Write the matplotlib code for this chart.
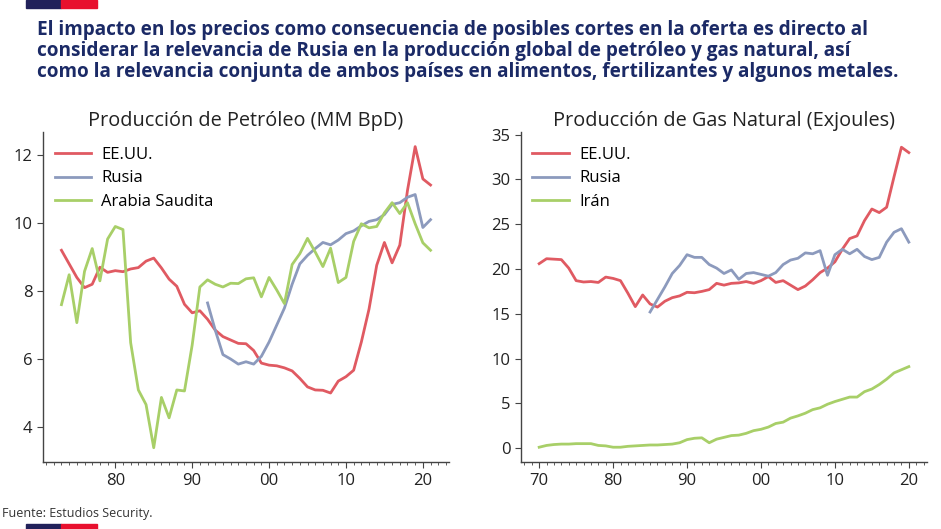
import numpy as np
import matplotlib.pyplot as plt
from matplotlib.patches import Rectangle

# Oil production (MM BpD)
oil_years = list(range(1973, 2022))
oil_us = [9.2, 8.8, 8.4, 8.1, 8.2, 8.7, 8.55, 8.6, 8.57, 8.65, 8.69, 8.88, 8.97,
          8.68, 8.35, 8.14, 7.61, 7.36, 7.42, 7.17, 6.85, 6.66, 6.56, 6.46, 6.45,
          6.25, 5.88, 5.82, 5.8, 5.74, 5.65, 5.43, 5.18, 5.09, 5.08, 5.0, 5.35,
          5.48, 5.67, 6.5, 7.47, 8.76, 9.43, 8.83, 9.35, 10.96, 12.25, 11.3, 11.12]
oil_ru_years = list(range(1992, 2022))
oil_ru = [7.65, 6.85, 6.13, 6.0, 5.85, 5.92, 5.85, 6.08, 6.5, 7.0, 7.5, 8.2, 8.8,
          9.05, 9.25, 9.43, 9.36, 9.5, 9.69, 9.77, 9.92, 10.05, 10.1, 10.25, 10.55,
          10.6, 10.76, 10.84, 9.87, 10.1]
oil_sa = [7.6, 8.48, 7.07, 8.58, 9.25, 8.3, 9.53, 9.9, 9.81, 6.48, 5.09, 4.66, 3.39,
          4.87, 4.27, 5.09, 5.06, 6.41, 8.12, 8.33, 8.2, 8.12, 8.23, 8.22, 8.36,
          8.39, 7.83, 8.4, 8.03, 7.63, 8.78, 9.1, 9.55, 9.15, 8.72, 9.26, 8.25,
          8.4, 9.46, 9.98, 9.86, 9.9, 10.3, 10.6, 10.28, 10.6, 9.98, 9.42, 9.2]

# Natural gas production (Exajoules)
gas_years = list(range(1970, 2021))
gas_us = [20.6, 21.15, 21.1, 21.05, 20.1, 18.7, 18.55, 18.6, 18.5, 19.1, 18.95,
          18.7, 17.3, 15.8, 17.1, 16.1, 15.75, 16.4, 16.8, 17.0, 17.4, 17.35, 17.5,
          17.7, 18.4, 18.2, 18.4, 18.45, 18.6, 18.4, 18.7, 19.15, 18.5, 18.7, 18.2,
          17.7, 18.1, 18.8, 19.6, 20.1, 20.8, 22.2, 23.4, 23.7, 25.4, 26.7, 26.3,
          26.9, 30.3, 33.6, 33.0]
gas_ru_years = list(range(1985, 2021))
gas_ru = [15.2, 16.6, 18.0, 19.5, 20.4, 21.6, 21.3, 21.3, 20.5, 20.1, 19.5, 19.9,
          18.85, 19.5, 19.6, 19.4, 19.2, 19.6, 20.5, 21.0, 21.2, 21.8, 21.7, 22.05,
          19.3, 21.6, 22.2, 21.7, 22.2, 21.4, 21.05, 21.3, 23.0, 24.1, 24.5, 23.0]
gas_ir = [0.1, 0.3, 0.4, 0.45, 0.45, 0.5, 0.5, 0.5, 0.3, 0.25, 0.1, 0.1, 0.2, 0.25,
          0.3, 0.35, 0.35, 0.4, 0.45, 0.6, 0.95, 1.1, 1.15, 0.6, 1.0, 1.2, 1.4, 1.45,
          1.65, 1.95, 2.1, 2.35, 2.75, 2.9, 3.35, 3.6, 3.9, 4.3, 4.5, 4.9, 5.2, 5.45,
          5.7, 5.7, 6.3, 6.6, 7.1, 7.7, 8.4, 8.75, 9.1]

RED = '#e05a62'
BLUE = '#8c9abd'
GREEN = '#a8cf68'
NAVY = '#1b2a66'

plt.rcParams['font.family'] = ['Open Sans', 'DejaVu Sans']

fig = plt.figure(figsize=(9.41, 5.29), dpi=100)

# header
fig.text(37 / 941, 1 - 20 / 529,
         "El impacto en los precios como consecuencia de posibles cortes en la oferta es directo al\n"
         "considerar la relevancia de Rusia en la producción global de petróleo y gas natural, así\n"
         "como la relevancia conjunta de ambos países en alimentos, fertilizantes y algunos metales.",
         fontsize=13.7, fontweight='bold', color=NAVY, va='top', ha='left', linespacing=1.08)

# decorative bars
for x0, w, c in [(26, 35, '#21215a'), (61, 36, '#e8102e')]:
    fig.patches.append(Rectangle((x0 / 941, 1 - 8 / 529), w / 941, 8 / 529,
                                 transform=fig.transFigure, color=c, zorder=5))
    fig.patches.append(Rectangle((x0 / 941, 0), w / 941, 5 / 529,
                                 transform=fig.transFigure, color=c, zorder=5))

fig.text(2 / 941, 1 - 513 / 529, "Fuente: Estudios Security.", fontsize=9,
         color='#333333', va='center', ha='left')


def style_axis(ax, xlim, ylim, majors, labels):
    ax.set_xlim(*xlim)
    ax.set_ylim(*ylim)
    for s in ['top', 'right']:
        ax.spines[s].set_visible(False)
    for s in ['left', 'bottom']:
        ax.spines[s].set_color('#444444')
        ax.spines[s].set_linewidth(1.0)
    ax.set_xticks(majors)
    ax.set_xticklabels(labels)
    ax.set_xticks(np.arange(int(np.ceil(xlim[0])), int(xlim[1]) + 1), minor=True)
    ax.tick_params(axis='x', which='major', length=4, color='#444444', labelsize=12,
                   pad=4, labelcolor='#222222')
    ax.tick_params(axis='x', which='minor', length=2.5, color='#444444')
    ax.tick_params(axis='y', length=4, color='#444444', labelsize=12,
                   labelcolor='#222222')


def add_legend(ax):
    ax.legend(loc='upper left', frameon=False, fontsize=12, handlelength=2.2,
              handletextpad=0.6, labelspacing=0.45, borderaxespad=0.3,
              bbox_to_anchor=(0.0, 0.99))


# oil chart
ax1 = fig.add_axes([43 / 941, 1 - 462 / 529, 406 / 941, 330 / 529])
ax1.plot(oil_years, oil_us, color=RED, lw=2, label='EE.UU.')
ax1.plot(oil_ru_years, oil_ru, color=BLUE, lw=2, label='Rusia')
ax1.plot(oil_years, oil_sa, color=GREEN, lw=2, label='Arabia Saudita')
style_axis(ax1, (1970.6, 2023.4), (2.97, 12.68),
           [1980, 1990, 2000, 2010, 2020], ['80', '90', '00', '10', '20'])
ax1.set_yticks([4, 6, 8, 10, 12])
ax1.set_title("Producción de Petróleo (MM BpD)", fontsize=14.3, color='#222222', pad=4)
add_legend(ax1)

# gas chart
ax2 = fig.add_axes([520.7 / 941, 1 - 462 / 529, 406.6 / 941, 330 / 529])
ax2.plot(gas_years, gas_us, color=RED, lw=2, label='EE.UU.')
ax2.plot(gas_ru_years, gas_ru, color=BLUE, lw=2, label='Rusia')
ax2.plot(gas_years, gas_ir, color=GREEN, lw=2, label='Irán')
style_axis(ax2, (1967.5, 2022.5), (-1.55, 35.3),
           [1970, 1980, 1990, 2000, 2010, 2020], ['70', '80', '90', '00', '10', '20'])
ax2.set_yticks([0, 5, 10, 15, 20, 25, 30, 35])
ax2.set_title("Producción de Gas Natural (Exjoules)", fontsize=14.3, color='#222222', pad=4)
add_legend(ax2)

fig.savefig('out.png', dpi=100)
